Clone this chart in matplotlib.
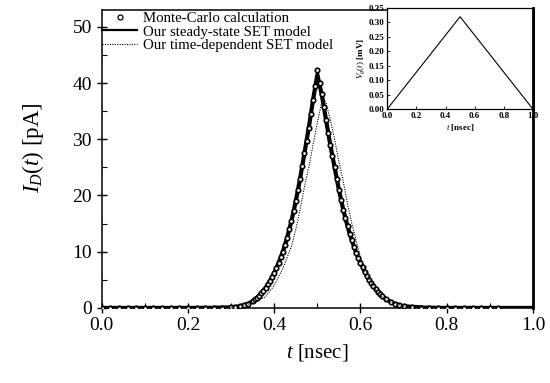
import matplotlib
matplotlib.use("Agg")
import matplotlib.pyplot as plt
from matplotlib.ticker import MultipleLocator

plt.rcParams["font.family"] = ["Liberation Serif", "DejaVu Serif"]
plt.rcParams["mathtext.fontset"] = "custom"
plt.rcParams["mathtext.rm"] = "Liberation Serif"
plt.rcParams["mathtext.it"] = "Liberation Serif:italic"
plt.rcParams["mathtext.bf"] = "Liberation Serif:bold"

# steady-state SET model, I_D [pA] vs t [nsec]
steady_t = [0.00, 0.10, 0.20, 0.25, 0.30, 0.32, 0.34, 0.35, 0.36, 0.37, 0.38, 0.39,
            0.40, 0.41, 0.42, 0.43, 0.44, 0.45, 0.46, 0.47, 0.48, 0.49, 0.50, 0.51,
            0.52, 0.53, 0.54, 0.55, 0.56, 0.57, 0.58, 0.59, 0.60, 0.61, 0.62, 0.63,
            0.64, 0.65, 0.66, 0.68, 0.70, 0.75, 0.80, 0.90, 1.00]
steady_i = [0.0, 0.0, 0.0, 0.02, 0.1, 0.3, 0.75, 1.2, 1.8, 2.6, 3.6, 4.8,
            6.2, 8.0, 10.0, 12.5, 15.5, 19.0, 23.0, 27.5, 32.0, 37.0, 41.5, 38.0,
            33.5, 29.0, 25.0, 21.0, 17.5, 14.5, 12.0, 9.8, 8.0, 6.4, 5.0, 3.9,
            2.9, 2.1, 1.5, 0.7, 0.3, 0.05, 0.0, 0.0, 0.0]

# time-dependent SET model
timedep_t = [0.00, 0.20, 0.30, 0.35, 0.38, 0.40, 0.42, 0.44, 0.45, 0.46, 0.47, 0.48,
             0.49, 0.50, 0.51, 0.515, 0.52, 0.53, 0.54, 0.55, 0.56, 0.57, 0.58, 0.59,
             0.60, 0.62, 0.64, 0.66, 0.70, 0.75, 0.80, 1.00]
timedep_i = [0.0, 0.0, 0.1, 0.8, 2.0, 4.0, 7.0, 11.0, 14.0, 17.5, 21.5, 25.0,
             29.0, 33.0, 36.5, 37.2, 36.5, 33.5, 30.0, 26.0, 22.5, 18.5, 15.0, 12.0,
             9.0, 5.2, 2.7, 1.3, 0.3, 0.05, 0.0, 0.0]

# Monte-Carlo points
mc_t = [0.00, 0.02, 0.04, 0.06, 0.08, 0.10, 0.12, 0.14, 0.16, 0.18, 0.20, 0.22,
        0.24, 0.26, 0.28, 0.30, 0.31, 0.32, 0.33, 0.34, 0.35, 0.355, 0.36, 0.365,
        0.37, 0.375, 0.38, 0.385, 0.39, 0.395, 0.40, 0.405, 0.41, 0.415, 0.42,
        0.425, 0.43, 0.435, 0.44, 0.445, 0.45, 0.455, 0.46, 0.465, 0.47, 0.475,
        0.48, 0.485, 0.49, 0.495, 0.50, 0.505, 0.51, 0.515, 0.52, 0.525, 0.53,
        0.535, 0.54, 0.545, 0.55, 0.555, 0.56, 0.565, 0.57, 0.575, 0.58, 0.585,
        0.59, 0.595, 0.60, 0.605, 0.61, 0.615, 0.62, 0.625, 0.63, 0.635, 0.64,
        0.645, 0.65, 0.66, 0.67, 0.68, 0.69, 0.70, 0.72, 0.74, 0.76, 0.78, 0.80,
        0.82, 0.84, 0.86, 0.88, 0.90, 0.92]
mc_i = [0.0, 0.0, 0.0, 0.0, 0.0, 0.0, 0.0, 0.0, 0.0, 0.0, 0.0, 0.0,
        0.0, 0.0, 0.05, 0.1, 0.2, 0.3, 0.5, 0.75, 1.2, 1.5, 1.8, 2.2,
        2.6, 3.1, 3.6, 4.2, 4.8, 5.5, 6.2, 7.1, 8.0, 9.0, 10.0,
        11.2, 12.5, 14.0, 15.5, 17.2, 19.0, 21.0, 23.0, 25.2, 27.5, 29.7,
        32.0, 34.5, 37.0, 39.5, 42.3, 40.0, 38.0, 35.7, 33.5, 31.2, 29.0,
        27.0, 25.0, 23.0, 21.0, 19.2, 17.5, 16.0, 14.5, 13.2, 12.0, 10.9,
        9.8, 8.9, 8.0, 7.2, 6.4, 5.7, 5.0, 4.4, 3.9, 3.4, 2.9,
        2.5, 2.1, 1.5, 1.0, 0.7, 0.45, 0.3, 0.15, 0.05, 0.0, 0.0, 0.0,
        0.0, 0.0, 0.0, 0.0, 0.0, 0.0]

# inset: gate voltage V_g [mV]
vg_t = [0.0, 0.5, 1.0]
vg_v = [0.0, 0.32, 0.0]

fig = plt.figure(figsize=(5.5, 3.83), dpi=100)
ax = fig.add_axes([0.185, 0.196, 0.784, 0.778])

ax.plot(steady_t, steady_i, color="black", lw=3.0, zorder=2)
ax.plot(mc_t, mc_i, ls="none", marker="o", ms=3.2, mfc="white", mec="black",
        mew=1.2, zorder=3)
ax.plot(timedep_t, timedep_i, color="black", lw=0.8, ls=(0, (1, 1.2)), zorder=4)

# legend handles
h_mc, = ax.plot([], [], ls="none", marker="o", ms=3.6, mfc="white", mec="black", mew=0.9)
h_ss, = ax.plot([], [], color="black", lw=1.6)
h_td, = ax.plot([], [], color="black", lw=0.8, ls=(0, (1, 1.2)))
ax.legend([h_mc, h_ss, h_td],
          ["Monte-Carlo calculation", "Our steady-state SET model",
           "Our time-dependent SET model"],
          loc="upper left", bbox_to_anchor=(0.0, 0.994), frameon=False,
          fontsize=10.7, handlelength=2.4, handletextpad=0.4, labelspacing=0.0,
          borderaxespad=0.0, borderpad=0.0)

ax.set_xlim(0, 1.0)
ax.set_ylim(0, 53)
ax.xaxis.set_major_locator(MultipleLocator(0.2))
ax.xaxis.set_minor_locator(MultipleLocator(0.1))
ax.yaxis.set_major_locator(MultipleLocator(10))
ax.yaxis.set_minor_locator(MultipleLocator(5))
ax.set_xticklabels([f"{v:.1f}" for v in ax.get_xticks()])
ax.tick_params(which="major", direction="inout", length=7, width=1.0, labelsize=14)
ax.tick_params(which="minor", direction="in", length=3.5, width=0.8)
ax.tick_params(axis="x", pad=3)
for s in ax.spines.values():
    s.set_linewidth(1.1)
ax.spines["right"].set_linewidth(2.0)

ax.set_xlabel("$t$ [nsec]", fontsize=15, labelpad=6)
ax.set_ylabel("$I_D(t)$ [pA]", fontsize=16.5)
ax.yaxis.set_label_coords(-0.13, 0.537)

# inset
ins = fig.add_axes([0.704, 0.715, 0.265, 0.264])
ins.plot(vg_t, vg_v, color="black", lw=0.8)
ins.set_xlim(0, 1.0)
ins.set_ylim(0, 0.35)
ins.xaxis.set_major_locator(MultipleLocator(0.2))
ins.yaxis.set_major_locator(MultipleLocator(0.05))
ins.set_xticklabels([f"{v:.1f}" for v in ins.get_xticks()])
ins.set_yticklabels([f"{v:.2f}" for v in ins.get_yticks()])
ins.tick_params(direction="in", length=2, width=0.6, labelsize=6.5, pad=2)
for lab in ins.get_xticklabels() + ins.get_yticklabels():
    lab.set_fontweight("bold")
for s in ins.spines.values():
    s.set_linewidth(0.9)
ins.spines["right"].set_linewidth(2.0)
ins.set_xlabel(r"$\mathbf{\mathit{t}}$ [nsec]", fontsize=6.5, fontweight="bold", labelpad=1.5)
ins.set_ylabel(r"$V_g(t)$ [mV]", fontsize=6.5, fontweight="bold", labelpad=1)

fig.savefig("out.png", dpi=100)
